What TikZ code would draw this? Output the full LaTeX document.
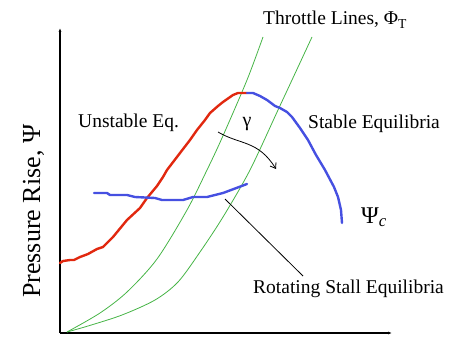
\documentclass[tikz,border=0pt]{standalone}
\usepackage{fontspec}
\setmainfont{Liberation Serif}
\usetikzlibrary{arrows.meta}
\begin{document}
\begin{tikzpicture}[x=1pt,y=-1pt,
  axis/.style={line width=1.1pt,-{Latex[length=4pt,width=3pt]}},
  redcurve/.style={line width=2.4pt,draw={rgb,255:red,225;green,40;blue,15},line join=round,line cap=round},
  bluecurve/.style={line width=2.4pt,draw={rgb,255:red,70;green,80;blue,225},line join=round,line cap=round},
  greencurve/.style={line width=0.8pt,draw={rgb,255:red,70;green,180;blue,70}},
  lbl/.style={font=\fontsize{19.5}{22}\selectfont,inner sep=0pt,anchor=base west},
  pointer/.style={line width=0.8pt}]
\useasboundingbox (0,0) rectangle (449,337);

% axes
\coordinate (O) at (60,333);
\coordinate (ytop) at (60,28);
\coordinate (xend) at (392,333);
\draw[axis] (O) -- (ytop);
\draw[axis] (O) -- (xend);

% throttle lines
\draw[greencurve] plot[smooth] coordinates {(67,332) (100,313) (127,292) (157,259) (187,210) (207,170) (222,138) (247,80) (263,37)};
\draw[greencurve] plot[smooth] coordinates {(67,332) (88,326) (122,315) (155,300) (178,282) (200,252) (223,217) (250,170) (278,110) (292,80) (312,37)};

% unstable (red)
\draw[redcurve] plot coordinates {(60,263) (63,261) (70,260) (74,260) (80,257) (88,254) (97,249) (103,247) (113,237) (127,220) (140,208) (147,198) (157,186) (163,177) (167,170) (180,153) (190,140) (197,130) (205,120) (210,113) (218,106) (223,102) (233,95) (238,93) (247,93)};

% stable (blue)
\draw[bluecurve] plot coordinates {(247,93) (253,93) (260,96) (267,100) (275,106) (280,108) (287,112) (292,117) (300,128) (308,140) (316,155) (325,170) (334,187) (338,197) (341,210) (342,223)};

% rotating stall (blue)
\draw[bluecurve] plot coordinates {(94,193) (107,193) (110,195) (127,195) (135,197) (155,198) (162,200) (183,200) (193,197) (207,197) (223,193) (247,184)};

% gamma arrow
\coordinate (g1) at (218,132);
\coordinate (g2) at (276,169);
\draw[line width=0.8pt,-{Straight Barb[length=5pt,width=7pt]}] (g1) .. controls (240,145) and (258,140) .. (g2);
\node[font=\fontsize{20}{22}\selectfont,inner sep=0pt] (gamma) at (247,124) {γ};

% labels
\node[lbl] (thr) at (263,25) {Throttle Lines, Φ\textsubscript{T}};
\node[lbl] (uns) at (78,127) {Unstable Eq.};
\node[lbl] (stab) at (308,128) {Stable Equilibria};
\node[lbl] (rot) at (253,293) {Rotating Stall Equilibria};
\node[lbl,font=\fontsize{24}{26}\selectfont] (psic) at (361,223) {Ψ\textsubscript{\textit{c}}};
\node[lbl,font=\fontsize{26}{28}\selectfont,rotate=90] (ylab) at (40,298) {Pressure Rise, Ψ};

% pointer
\coordinate (rs) at (225,199);
\draw[pointer] (rs) -- (303,276) coordinate (rsend);
\end{tikzpicture}
\end{document}
